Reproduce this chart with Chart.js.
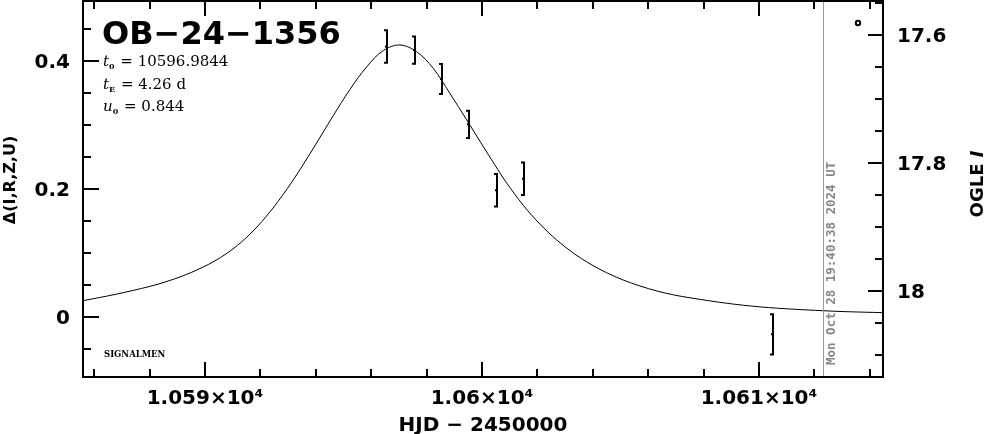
<!DOCTYPE html>
<html>
<head>
<meta charset="utf-8">
<script src="https://cdn.jsdelivr.net/npm/chart.js@4.4.1/dist/chart.umd.min.js"></script>
<style>
  body { margin: 0; background: #fff; }
  #wrap { width: 986px; height: 434px; }
</style>
</head>
<body>
<div id="wrap"><canvas id="lc" width="986" height="434"></canvas></div>
<script>
// Model curve (HJD - 2450000 vs delta flux)
const modelT = [10585.60, 10586.79, 10588.01, 10588.59, 10589.21, 10589.82, 10590.40, 10591.01,
  10591.62, 10592.20, 10592.82, 10593.43, 10594.03, 10594.63, 10595.23, 10595.84, 10596.44,
  10597.04, 10597.64, 10598.24, 10598.84, 10599.45, 10600.05, 10600.65, 10600.89, 10601.49,
  10602.09, 10602.70, 10603.30, 10603.90, 10604.50, 10605.10, 10605.70, 10606.31, 10606.91,
  10607.51, 10608.83, 10610.04, 10611.24, 10612.32, 10613.17, 10614.48];
const modelD = [0.0255, 0.0356, 0.0478, 0.0551, 0.0644, 0.0757, 0.0887, 0.1064,
  0.1293, 0.1566, 0.1913, 0.2303, 0.272, 0.3146, 0.3554, 0.391, 0.4165,
  0.425, 0.4145, 0.3886, 0.3495, 0.3078, 0.2661, 0.225, 0.2094, 0.1746,
  0.1452, 0.1202, 0.0998, 0.083, 0.0692, 0.0578, 0.0485, 0.0407, 0.0346,
  0.030, 0.0215, 0.0158, 0.0122, 0.0098, 0.0083, 0.0068];

// OGLE I data points
const obsT = [10596.56, 10597.57, 10598.55, 10599.54, 10600.53, 10601.53, 10610.49];
const obsD = [0.4227, 0.417, 0.372, 0.301, 0.198, 0.216, -0.027];
const obsErr = [0.027, 0.023, 0.025, 0.023, 0.027, 0.027, 0.033];

// axes
const xTicks = [10590, 10600, 10610];
const xTickLabels = ['1.059×10⁴', '1.06×10⁴', '1.061×10⁴'];
const leftTicks = [0, 0.2, 0.4];
const leftTickLabels = ['0', '0.2', '0.4'];
const rightTicks = [17.6, 17.8, 18];
const rightTickLabels = ['17.6', '17.8', '18'];
const nowHJD = 10612.32;

const params = [['t', '0', ' = 10596.9844'], ['t', 'E', ' = 4.26 d'], ['u', '0', ' = 0.844']];

const tickFont = { family: 'DejaVu Sans', size: 20, weight: 'bold' };

// keep the plot box where the reference has it
function pin(size, key) {
  return s => {
    s[key] = size;
    s.paddingTop = 0; s.paddingBottom = 0;
    s.paddingLeft = 0; s.paddingRight = 0;
  };
}

// frame, inward ticks, error bars and labels
const decor = {
  id: 'decor',
  afterDatasetsDraw(chart) {
    const { ctx, chartArea: a, scales } = chart;
    const sx = scales.x, sy = scales.y, sy2 = scales.y2;
    ctx.save();

    // "now" line + date
    const nx = sx.getPixelForValue(nowHJD);
    ctx.strokeStyle = '#999';
    ctx.lineWidth = 1;
    ctx.beginPath();
    ctx.moveTo(Math.round(nx) + 0.5, a.top);
    ctx.lineTo(Math.round(nx) + 0.5, a.bottom);
    ctx.stroke();
    ctx.save();
    ctx.translate(nx + 8, 365);
    ctx.rotate(-Math.PI / 2);
    ctx.fillStyle = '#888';
    ctx.font = 'bold 12.5px "DejaVu Sans Mono"';
    ctx.textAlign = 'left';
    ctx.textBaseline = 'middle';
    ctx.fillText('Mon Oct 28 19:40:38 2024 UT', 0, 0);
    ctx.restore();

    // error bars
    ctx.strokeStyle = '#000';
    ctx.lineWidth = 2;
    obsT.forEach((t, i) => {
      const x = Math.round(sx.getPixelForValue(t));
      const yt = sy.getPixelForValue(obsD[i] + obsErr[i]);
      const yb = sy.getPixelForValue(obsD[i] - obsErr[i]);
      const yc = sy.getPixelForValue(obsD[i]);
      ctx.beginPath();
      ctx.moveTo(x, yt); ctx.lineTo(x, yb);
      ctx.moveTo(x - 3, yt + 1); ctx.lineTo(x, yt + 1);
      ctx.moveTo(x - 3, yb - 1); ctx.lineTo(x, yb - 1);
      ctx.moveTo(x - 2, yc); ctx.lineTo(x, yc);
      ctx.stroke();
    });

    // ticks
    ctx.lineWidth = 2;
    ctx.beginPath();
    for (let d = 10586; d <= 10614; d += 2) {
      const x = Math.round(sx.getPixelForValue(d));
      const len = d % 10 === 0 ? 15 : 8;
      ctx.moveTo(x, a.bottom); ctx.lineTo(x, a.bottom - len);
      ctx.moveTo(x, a.top); ctx.lineTo(x, a.top + len);
    }
    for (let k = -1; k <= 9; k++) {
      const y = Math.round(sy.getPixelForValue(k * 0.05));
      const len = k % 4 === 0 ? 16 : 8;
      ctx.moveTo(a.left, y); ctx.lineTo(a.left + len, y);
    }
    for (let k = 1; k <= 12; k++) {
      const v = 17.5 + k * 0.05;
      const y = Math.round(sy2.getPixelForValue(v));
      const len = (k - 2) % 4 === 0 ? 15 : 8;
      ctx.moveTo(a.right, y); ctx.lineTo(a.right - len, y);
    }
    ctx.stroke();

    // frame
    ctx.strokeRect(a.left, a.top, a.right - a.left, a.bottom - a.top);

    // title and fit parameters
    ctx.fillStyle = '#000';
    ctx.textAlign = 'left';
    ctx.textBaseline = 'alphabetic';
    ctx.font = 'bold 32px "DejaVu Sans"';
    ctx.fillText('OB\u221224\u22121356', 102, 44);
    const baseY = [66, 89, 111];
    params.forEach((p, i) => {
      let x = 103;
      ctx.font = 'italic 15px "DejaVu Serif"';
      ctx.fillText(p[0], x, baseY[i]);
      x += ctx.measureText(p[0]).width;
      ctx.font = 'bold 8px "DejaVu Serif"';
      ctx.fillText(p[1], x, baseY[i] + 3);
      x += ctx.measureText(p[1]).width + 1;
      ctx.font = '15px "DejaVu Serif"';
      ctx.fillText(p[2], x, baseY[i]);
    });
    ctx.font = 'bold 8.5px "DejaVu Serif"';
    ctx.fillText('SIGNALMEN', 104, 357);

    // small circle marker top right
    ctx.lineWidth = 2;
    ctx.beginPath();
    ctx.arc(858, 23, 2.2, 0, Math.PI * 2);
    ctx.stroke();

    // axis titles
    ctx.font = 'bold 20px "DejaVu Sans"';
    ctx.textAlign = 'center';
    ctx.fillText('HJD \u2212 2450000', 483, 431);

    ctx.save();
    ctx.translate(11, 180);
    ctx.rotate(-Math.PI / 2);
    ctx.font = 'bold 16px "DejaVu Sans"';
    ctx.textBaseline = 'middle';
    ctx.fillText('\u0394(I,R,Z,U)', 0, 0);
    ctx.restore();

    ctx.save();
    ctx.translate(978, 184);
    ctx.rotate(-Math.PI / 2);
    ctx.textBaseline = 'middle';
    ctx.textAlign = 'left';
    ctx.font = 'bold 18px "DejaVu Sans"';
    const w1 = ctx.measureText('OGLE ').width;
    ctx.font = 'bold italic 18px "DejaVu Sans"';
    const w2 = ctx.measureText('I').width;
    ctx.font = 'bold 18px "DejaVu Sans"';
    ctx.fillText('OGLE ', -(w1 + w2) / 2, 0);
    ctx.font = 'bold italic 18px "DejaVu Sans"';
    ctx.fillText('I', -(w1 + w2) / 2 + w1, 0);
    ctx.restore();

    ctx.restore();
  }
};

new Chart(document.getElementById('lc'), {
  type: 'line',
  data: {
    datasets: [{
      data: modelT.map((t, i) => ({ x: t, y: modelD[i] })),
      borderColor: '#000',
      borderWidth: 1,
      pointRadius: 0,
      tension: 0.35,
      yAxisID: 'y'
    }]
  },
  options: {
    responsive: false,
    animation: false,
    layout: { padding: { top: 1, left: 0, right: 0, bottom: 0 } },
    plugins: { legend: { display: false }, tooltip: { enabled: false } },
    scales: {
      x: {
        type: 'linear',
        min: 10585.596, max: 10614.477,
        grid: { display: false, drawTicks: false },
        border: { display: false },
        afterBuildTicks: s => { s.ticks = xTicks.map(v => ({ value: v })); },
        afterFit: pin(57, 'height'),
        ticks: {
          autoSkip: false, maxRotation: 0, padding: 10, color: '#000', font: tickFont,
          callback: v => xTickLabels[xTicks.indexOf(v)]
        }
      },
      y: {
        position: 'left',
        min: -0.09375, max: 0.49375,
        grid: { display: false, drawTicks: false },
        border: { display: false },
        afterBuildTicks: s => { s.ticks = leftTicks.map(v => ({ value: v })); },
        afterFit: pin(83, 'width'),
        ticks: {
          padding: 13, labelOffset: 2, color: '#000', font: tickFont,
          callback: v => leftTickLabels[leftTicks.indexOf(v)]
        }
      },
      y2: {
        position: 'right',
        reverse: true,
        min: 17.5469, max: 18.1344,
        grid: { display: false, drawTicks: false },
        border: { display: false },
        afterBuildTicks: s => { s.ticks = rightTicks.map(v => ({ value: v })); },
        afterFit: pin(103, 'width'),
        ticks: {
          padding: 14, labelOffset: 2, color: '#000', font: tickFont,
          callback: v => rightTickLabels[rightTicks.indexOf(v)]
        }
      }
    }
  },
  plugins: [decor]
});
</script>
</body>
</html>
